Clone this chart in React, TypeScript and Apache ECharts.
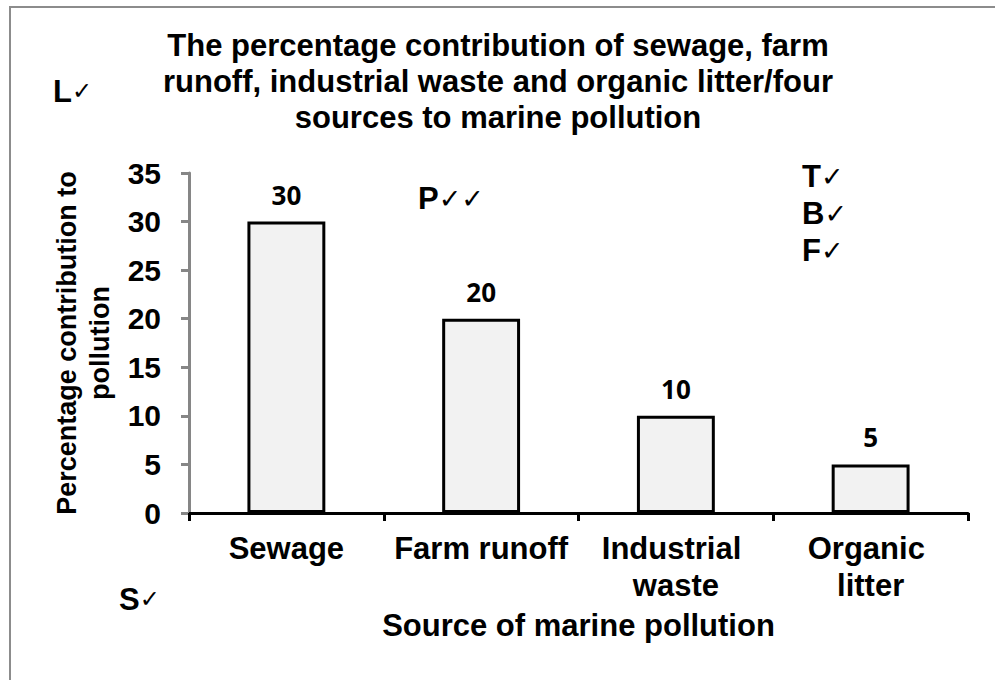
import React, { useEffect, useRef } from "react";
import * as echarts from "echarts";

const categories = ["Sewage", "Farm runoff", "Industrial waste", "Organic litter"];
const values = [30, 20, 10, 5];
const yTicks = { min: 0, max: 35, interval: 5 };
const titleText =
  "The percentage contribution of sewage, farm\nrunoff, industrial waste and organic litter/four\nsources to marine pollution";
const yAxisName = "Percentage contribution to\npollution";
const xAxisName = "Source of marine pollution";

const ARIAL = "'Liberation Sans', Arial, sans-serif";
const CAL = "'Open Sans', sans-serif";
const CHECK = "'DejaVu Sans', sans-serif";

export default function App() {
  const ref = useRef<HTMLDivElement>(null);

  useEffect(() => {
    if (!ref.current) return;
    const chart = echarts.init(ref.current, null, { renderer: "svg" });

    const mark = (
      x: number,
      y: number,
      lines: [string, string][],
      size: number,
      checkSize: number,
      lh: number
    ) => ({
      type: "text",
      x,
      y,
      style: {
        text: lines.map(([l, c]) => `{a|${l}}{b|${c}}`).join("\n"),
        align: "left",
        verticalAlign: "middle",
        rich: {
          a: { fontFamily: ARIAL, fontWeight: "bold", fontSize: size, lineHeight: lh, fill: "#000" },
          b: { fontFamily: CHECK, fontSize: checkSize, lineHeight: lh, fill: "#000" },
        },
      },
    });

    chart.setOption({
      animation: false,
      backgroundColor: "#ffffff",
      title: {
        text: titleText,
        left: 498,
        top: 27,
        padding: 0,
        textAlign: "center",
        textStyle: {
          fontFamily: ARIAL,
          fontWeight: "bold",
          fontSize: 31,
          lineHeight: 36,
          color: "#000",
        },
      },
      grid: { left: 189, right: 27, top: 173, bottom: 167, containLabel: false },
      xAxis: {
        type: "category",
        data: categories,
        name: xAxisName,
        nameLocation: "middle",
        nameGap: 97,
        nameTextStyle: { fontFamily: ARIAL, fontWeight: "bold", fontSize: 31, color: "#000" },
        axisLine: { lineStyle: { color: "#000", width: 3 } },
        axisTick: { show: true, length: 8, lineStyle: { color: "#000", width: 3 } },
        axisLabel: {
          fontFamily: ARIAL,
          fontWeight: "bold",
          fontSize: 31,
          lineHeight: 37,
          color: "#000",
          margin: 17,
          width: 182,
          overflow: "break",
          interval: 0,
        },
        splitLine: { show: false },
      },
      yAxis: {
        type: "value",
        min: yTicks.min,
        max: yTicks.max,
        interval: yTicks.interval,
        name: yAxisName,
        nameLocation: "middle",
        nameRotate: 90,
        nameGap: 70,
        nameTextStyle: { fontFamily: ARIAL, fontWeight: "bold", fontSize: 27, lineHeight: 33, color: "#000", align: "center" },
        axisLine: { show: true, lineStyle: { color: "#868686", width: 3 } },
        axisTick: { show: true, length: 8, lineStyle: { color: "#868686", width: 3 } },
        axisLabel: { fontFamily: ARIAL, fontWeight: "bold", fontSize: 30, color: "#000", margin: 28 },
        splitLine: { show: false },
      },
      series: [
        {
          type: "bar",
          data: values,
          barWidth: "40%",
          itemStyle: { color: "#f2f2f2", borderColor: "#000", borderWidth: 3 },
          label: {
            show: true,
            position: "top",
            distance: 14,
            fontFamily: CAL,
            fontWeight: "bold",
            fontSize: 26,
            color: "#000",
          },
        },
      ],
      graphic: [
        {
          type: "rect",
          shape: { x: 10, y: 7, width: 1000, height: 700 },
          style: { fill: "none", stroke: "#8c8c8c", lineWidth: 2 },
          silent: true,
        },
        mark(53, 91, [["L", "✓"]], 31, 24, 34),
        mark(119, 599, [["S", "✓"]], 31, 24, 34),
        mark(418, 198, [["P", "✓✓"]], 31, 27, 35),
        mark(802, 213, [["T", "✓"], ["B", "✓"], ["F", "✓"]], 31, 27, 37),
      ],
    });

    return () => chart.dispose();
  }, []);

  return (
    <div
      ref={ref}
      style={{ position: "absolute", left: 0, top: 0, width: 995, height: 680, background: "#fff" }}
    />
  );
}
